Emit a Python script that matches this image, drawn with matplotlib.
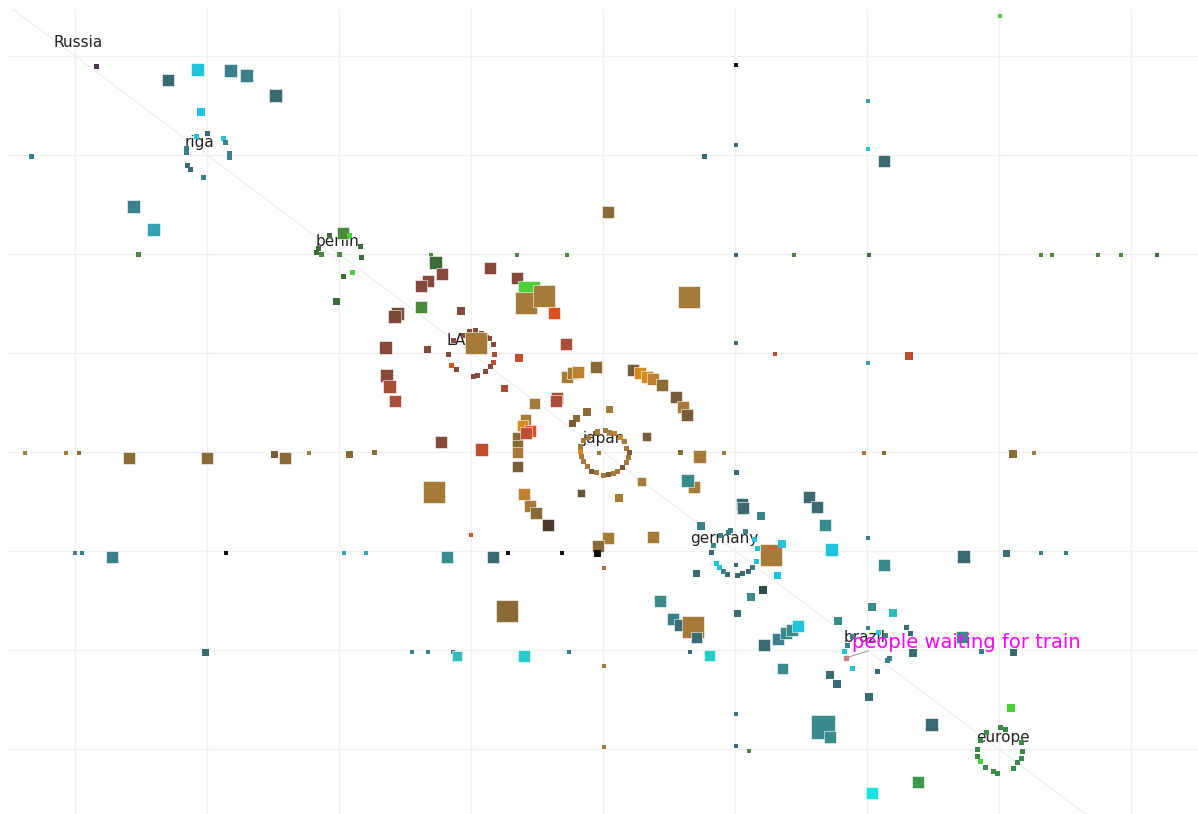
import matplotlib.pyplot as plt

# node labels (position of label text, in grid units)
labels = ["Russia", "riga", "berlin", "LA", "japan", "germany", "brazil", "europe"]
label_x = [-3.98, -3.06, -2.01, -1.11, 0.00, 0.92, 1.98, 3.03]
label_y = [4.14, 3.13, 2.13, 1.13, 0.14, -0.87, -1.87, -2.88]

note_text = "people waiting for train"
note_x, note_y = 1.89, -1.92

# colour codes used by the points
palette = {
    "P": "#4b3553", "K": "#111111",
    "T1": "#3a7f8c", "T2": "#3b6b72", "T3": "#33a3b5", "T4": "#3a8c8c",
    "T5": "#2fbcbc", "T6": "#25cccc", "TD": "#2b4b4b", "C": "#1ec3dc", "C2": "#12e4e4",
    "G": "#4a8a3a", "GD": "#3d6b3a", "GB": "#48d038", "G2": "#3a9a48", "GE": "#3a8a48",
    "RB": "#87493a", "RB2": "#7a4a38", "R": "#c24e30", "R2": "#a84e38", "RO": "#d9521f",
    "B1": "#a67a38", "B3": "#8a6a35", "B4": "#7a5c38", "B5": "#6a5035", "BD": "#4b3b2c",
    "O": "#d68a1e", "O3": "#c08030",
}

# (x, y, value, colour code)
riga = [
    (-3.84, 3.89, 4, "P"), (-3.30, 3.76, 12, "T2"), (-3.07, 3.86, 13, "C"),
    (-2.82, 3.85, 13, "T1"), (-2.70, 3.80, 13, "T1"), (-2.48, 3.60, 13, "T2"),
    (-3.05, 3.43, 7, "C"),
    (-3.08, 3.19, 4, "C"), (-3.00, 3.22, 4, "T2"), (-2.88, 3.17, 4, "C"), (-2.86, 3.13, 4, "T1"),
    (-2.83, 3.02, 4, "T1"), (-2.83, 2.97, 4, "T1"), (-3.15, 2.89, 4, "T2"), (-3.13, 2.85, 4, "T2"),
    (-3.03, 2.77, 4, "T1"), (-3.16, 3.07, 4, "T1"), (-3.16, 3.03, 4, "T1"),
    (-4.33, 2.99, 4, "T1"), (-3.56, 2.48, 13, "T1"), (-3.41, 2.25, 13, "T3"),
]

berlin = [
    (-3.52, 1.99, 4, "G"), (-1.97, 2.21, 12, "G"),
    (-2.07, 2.19, 4, "GD"), (-2.16, 2.06, 4, "GD"), (-2.17, 2.02, 4, "GD"), (-2.13, 1.99, 4, "G"),
    (-2.00, 1.99, 4, "G"), (-1.92, 2.19, 4, "GB"), (-1.84, 2.08, 4, "GD"), (-1.83, 1.96, 4, "GD"),
    (-1.97, 1.77, 4, "GD"), (-1.90, 1.81, 4, "GB"), (-2.02, 1.52, 6, "GD"),
    (-1.30, 1.99, 3, "G"), (-0.65, 1.99, 3, "G"), (-0.27, 1.99, 3, "G"), (1.01, 1.99, 3, "T2"),
    (1.45, 1.99, 3, "G"), (2.02, 1.99, 3, "GD"), (3.32, 1.99, 3, "G"), (3.40, 1.99, 3, "G"),
    (3.75, 1.99, 3, "G"), (3.93, 1.99, 3, "G"), (4.20, 1.99, 3, "GD"),
]

top_right = [
    (3.01, 4.40, 3, "GB"), (1.01, 3.91, 3, "K"), (2.01, 3.55, 3, "T3"), (1.01, 3.10, 3, "T2"),
    (0.77, 2.99, 4, "T2"), (2.01, 3.06, 3, "C"), (2.13, 2.94, 12, "T2"), (0.04, 2.42, 12, "B3"),
    (0.65, 1.57, 22, "B1"), (1.01, 1.10, 3, "T2"), (1.30, 0.99, 3, "R"), (2.32, 0.97, 7, "R"),
    (2.01, 0.90, 3, "T3"),
]

la = [
    (-1.27, 1.91, 13, "GD"), (-1.22, 1.80, 12, "RB"), (-1.33, 1.73, 12, "RB"), (-1.38, 1.68, 12, "RB"),
    (-0.86, 1.86, 12, "RB"), (-0.65, 1.76, 12, "RB"),
    (-0.56, 1.62, 22, "GB"), (-0.58, 1.51, 22, "B1"), (-0.45, 1.58, 22, "B1"), (-0.37, 1.40, 12, "RO"),
    (-1.38, 1.46, 12, "G"), (-1.56, 1.40, 13, "RB2"), (-1.58, 1.37, 13, "RB2"), (-1.08, 1.42, 7, "RB"),
    (-1.65, 1.06, 13, "RB"), (-1.33, 1.04, 6, "RB"),
    (-1.13, 1.13, 4, "RB"), (-1.06, 1.18, 4, "RB"), (-1.01, 1.22, 4, "RB"), (-0.97, 1.23, 4, "RB"),
    (-0.92, 1.20, 4, "RB"), (-0.88, 1.16, 4, "RB"), (-0.86, 1.15, 4, "RB"), (-0.83, 1.09, 4, "RB"),
    (-0.82, 0.98, 4, "R2"), (-0.83, 0.90, 4, "R"), (-0.85, 0.86, 4, "RB"), (-0.89, 0.81, 4, "RB"),
    (-0.95, 0.77, 4, "RB"), (-0.98, 0.76, 4, "RB"), (-1.11, 0.83, 4, "RB"), (-1.15, 0.87, 4, "RO"),
    (-1.17, 0.98, 4, "RB"),
    (-0.96, 1.10, 22, "B1"),
    (-0.64, 0.95, 7, "R"), (-0.28, 1.09, 12, "R2"), (-1.64, 0.77, 13, "RB"), (-1.62, 0.66, 13, "R2"),
    (-1.58, 0.52, 12, "R2"), (-0.75, 0.64, 6, "R2"), (-1.23, 0.10, 12, "RB"), (-0.92, 0.03, 13, "R"),
    (-1.28, -0.40, 22, "B1"), (-1.00, -0.84, 3, "RO"),
]

japan = [
    (-0.27, 0.76, 12, "B1"), (-0.23, 0.80, 12, "B1"), (-0.19, 0.81, 12, "O3"), (-0.05, 0.86, 12, "B3"),
    (0.23, 0.83, 12, "B4"), (0.28, 0.80, 12, "O"), (0.33, 0.76, 12, "O"), (0.38, 0.74, 12, "O3"),
    (0.45, 0.68, 12, "B3"), (0.55, 0.56, 12, "B4"), (0.61, 0.45, 12, "B1"), (0.64, 0.37, 12, "B4"),
    (-0.35, 0.55, 12, "R2"), (-0.36, 0.52, 12, "R2"), (-0.52, 0.49, 11, "B1"),
    (-0.12, 0.40, 7, "B3"), (0.05, 0.43, 6, "B1"), (-0.20, 0.34, 6, "B3"), (-0.23, 0.29, 6, "B4"),
    (-0.59, 0.33, 11, "B1"), (-0.61, 0.27, 11, "O"), (-0.65, 0.15, 11, "B3"), (-0.55, 0.21, 12, "RO"),
    (-0.58, 0.19, 12, "R"), (-0.65, 0.07, 11, "B3"), (-0.65, -0.01, 11, "B1"), (-0.65, -0.15, 11, "B4"),
    (-0.15, 0.12, 4, "B1"), (-0.11, 0.15, 4, "B1"), (-0.06, 0.19, 4, "B4"), (-0.04, 0.21, 4, "B1"),
    (0.02, 0.22, 4, "B1"), (0.05, 0.20, 4, "B1"), (0.09, 0.19, 4, "O3"), (0.13, 0.15, 4, "O"),
    (0.16, 0.11, 4, "B1"), (0.18, 0.04, 4, "B1"), (0.20, -0.01, 4, "B4"), (0.19, -0.06, 4, "B1"),
    (0.18, -0.11, 4, "B1"), (0.15, -0.16, 4, "B4"), (0.11, -0.20, 4, "B1"), (0.08, -0.22, 4, "B1"),
    (0.04, -0.23, 4, "B4"), (0.00, -0.24, 4, "B1"), (-0.05, -0.21, 4, "B1"), (-0.09, -0.20, 4, "B4"),
    (-0.12, -0.15, 4, "B1"), (-0.15, -0.10, 4, "B1"), (-0.16, -0.05, 4, "B1"), (-0.17, 0.00, 4, "O"),
    (-0.17, 0.06, 4, "B1"), (-0.03, -0.01, 3, "B1"),
    (0.33, 0.16, 9, "B4"), (0.59, -0.01, 4, "B3"), (0.73, -0.05, 13, "B1"), (0.92, -0.01, 3, "B1"),
    (0.69, -0.35, 12, "B1"), (0.64, -0.29, 13, "T4"), (0.29, -0.30, 9, "B1"),
    (-0.17, -0.41, 8, "B5"), (0.12, -0.46, 7, "B1"),
    (-0.60, -0.42, 12, "O3"), (-0.55, -0.55, 12, "B1"), (-0.51, -0.62, 12, "B3"), (-0.42, -0.74, 12, "BD"),
    (0.04, -0.87, 12, "B1"), (-0.04, -0.95, 12, "B3"), (-0.04, -1.03, 6, "K"), (0.38, -0.86, 12, "B1"),
    (-0.73, -1.61, 22, "B3"), (0.01, -1.17, 3, "B1"), (0.01, -2.16, 3, "B1"), (0.01, -2.98, 3, "B1"),
    (3.11, -0.02, 7, "B3"), (3.27, -0.01, 3, "B1"), (1.98, -0.01, 3, "B1"), (2.13, -0.01, 3, "B3"),
]

rows = [
    (-4.38, -0.01, 3, "B1"), (-4.07, -0.01, 3, "B1"), (-3.97, -0.01, 3, "B3"), (-3.59, -0.06, 12, "B3"),
    (-3.00, -0.06, 12, "B3"), (-2.49, -0.03, 6, "B4"), (-2.41, -0.06, 12, "B3"), (-2.23, -0.01, 3, "B1"),
    (-1.92, -0.03, 6, "B3"), (-1.73, -0.01, 4, "B3"),
    (-4.00, -1.02, 3, "T1"), (-3.95, -1.02, 3, "T1"), (-3.72, -1.06, 12, "T1"), (-2.86, -1.02, 3, "K"),
    (-1.96, -1.02, 3, "T3"), (-1.80, -1.02, 3, "T3"), (-1.18, -1.06, 12, "T4"), (-0.83, -1.06, 12, "T2"),
    (-0.72, -1.02, 3, "K"), (-0.31, -1.02, 3, "K"),
    (-3.01, -2.03, 6, "T2"), (-1.45, -2.02, 3, "T1"), (-1.33, -2.02, 3, "T1"), (-1.14, -2.02, 3, "T2"),
    (-1.11, -2.06, 10, "T5"), (-0.60, -2.06, 12, "T6"), (-0.26, -2.02, 3, "T1"),
]

germany = [
    (0.74, -0.75, 7, "T1"), (1.01, -0.21, 4, "T2"), (1.05, -0.53, 12, "T2"), (1.06, -0.57, 12, "T2"),
    (1.20, -0.65, 7, "T1"), (1.56, -0.45, 12, "T2"), (1.62, -0.56, 12, "T2"), (1.68, -0.74, 12, "T4"),
    (0.82, -1.02, 4, "T2"), (0.84, -0.94, 4, "T1"), (0.89, -0.84, 4, "T1"), (0.95, -0.81, 4, "T1"),
    (0.97, -0.79, 4, "T1"), (1.08, -0.80, 4, "T1"), (1.15, -0.88, 4, "C"), (1.17, -0.97, 4, "C"),
    (1.16, -1.11, 4, "C"), (1.13, -1.17, 4, "T1"), (1.10, -1.21, 4, "T2"), (1.06, -1.23, 4, "T2"),
    (1.02, -1.25, 4, "T2"), (0.94, -1.24, 4, "T2"), (0.91, -1.21, 4, "T1"), (0.88, -1.17, 4, "C"),
    (0.86, -1.13, 4, "C"), (1.01, -1.14, 3, "T2"),
    (1.27, -1.04, 22, "B1"), (1.36, -0.93, 7, "C"), (1.32, -1.25, 6, "C"), (1.73, -0.99, 13, "C"),
    (2.01, -0.87, 3, "T1"), (2.13, -1.14, 12, "T4"), (0.71, -1.23, 6, "T2"), (1.21, -1.39, 7, "TD"),
    (1.12, -1.46, 7, "T4"), (1.02, -1.63, 6, "T2"), (0.43, -1.51, 12, "T4"), (0.53, -1.69, 12, "T1"),
    (0.58, -1.75, 12, "T2"), (0.68, -1.77, 22, "B1"), (0.71, -1.87, 11, "T2"), (0.66, -2.02, 3, "T2"),
    (0.81, -2.06, 11, "T6"), (1.22, -1.95, 12, "T2"), (1.33, -1.89, 12, "T1"), (1.39, -1.83, 12, "T4"),
    (1.43, -1.80, 12, "T4"), (1.48, -1.76, 12, "C"), (1.36, -2.19, 11, "T4"), (1.72, -2.25, 7, "T2"),
    (1.77, -2.34, 7, "T2"), (2.02, -2.48, 7, "T2"), (1.78, -1.71, 7, "T4"), (2.04, -1.57, 7, "T4"),
    (2.20, -1.63, 7, "T5"),
]

brazil = [
    (2.30, -1.77, 4, "T2"), (2.33, -1.83, 4, "T2"), (2.35, -2.03, 7, "T2"), (2.17, -2.09, 4, "T1"),
    (2.16, -2.11, 4, "T1"), (2.08, -2.22, 4, "T2"), (1.89, -2.19, 4, "C"), (1.83, -2.02, 4, "C"),
    (1.85, -1.95, 4, "T1"), (1.89, -1.86, 4, "T1"), (2.01, -1.78, 3, "T1"), (2.09, -1.82, 4, "C"),
    (2.14, -1.85, 4, "T1"),
    (2.73, -1.06, 13, "T2"), (3.06, -1.03, 6, "T2"), (3.32, -1.02, 3, "T1"), (3.51, -1.02, 3, "T1"),
    (2.72, -1.87, 12, "T4"), (2.87, -2.02, 4, "T1"), (3.11, -2.03, 6, "T2"),
    (1.01, -2.65, 3, "T1"), (1.01, -2.97, 3, "T2"), (1.11, -3.02, 3, "G"),
    (1.67, -2.78, 24, "T4"), (1.72, -2.88, 12, "T4"), (2.49, -2.75, 13, "T2"),
    (2.39, -3.33, 12, "G2"), (2.04, -3.44, 12, "C2"), (3.09, -2.59, 7, "GB"),
]
brazil_edge_x = [1.84, 2.01]
brazil_edge_y = [-2.08, -2.01]

europe = [
    (2.91, -2.83, 4, "GE"), (3.01, -2.78, 4, "GE"), (3.05, -2.80, 4, "GE"), (3.17, -2.93, 4, "GE"),
    (3.18, -3.03, 4, "GE"), (3.17, -3.10, 4, "GE"), (3.14, -3.14, 4, "GE"), (3.11, -3.20, 4, "GE"),
    (2.99, -3.25, 4, "GE"), (2.96, -3.23, 4, "GE"), (2.90, -3.19, 4, "GE"), (2.86, -3.13, 4, "GB"),
    (2.84, -3.08, 4, "GE"), (2.84, -3.01, 4, "GE"), (2.86, -2.91, 4, "GE"),
]

fig = plt.figure(figsize=(11.98, 8.14), dpi=100)
ax = fig.add_axes([8 / 1198, 0, 1190 / 1198, 805 / 814])
ax.set_xlim(-4.51, 4.51)
ax.set_ylim(-3.657, 4.475)
ax.set_xticks(range(-4, 5))
ax.set_yticks(range(-3, 5))
ax.tick_params(length=0, labelbottom=False, labelleft=False)
ax.grid(color="#f1f1f1", lw=1)
ax.set_axisbelow(True)
for sp in ax.spines.values():
    sp.set_visible(False)

ax.axline((0, 0), slope=-1, color="#ececec", lw=0.7, zorder=1)

for name, tx, ty in zip(labels, label_x, label_y):
    ax.text(tx, ty, name, ha="center", va="center", fontsize=11, color="#222222", zorder=2)

ax.plot(brazil_edge_x, brazil_edge_y, color="#a0a0a0", lw=0.8, zorder=3)
ax.scatter(brazil_edge_x[:1], brazil_edge_y[:1], s=8, marker="s", color="#c88080", zorder=3)

for group in [rows, riga, berlin, top_right, la, japan, germany, brazil, europe]:
    xs = [p[0] for p in group]
    ys = [p[1] for p in group]
    # small dots are drawn a bit fuller and without the light rim
    sides = [p[2] + 1 if p[2] < 8 else p[2] for p in group]
    ss = [(0.72 * v) ** 2 for v in sides]
    lws = [0 if p[2] < 8 else 0.4 for p in group]
    cs = [palette[p[3]] for p in group]
    ax.scatter(xs, ys, s=ss, c=cs, marker="s", edgecolors="#ffffff", linewidths=lws, zorder=4)

ax.text(note_x, note_y, note_text, ha="left", va="center", fontsize=14, color="#ff00ff", zorder=6)

fig.savefig("out.png", dpi=100)
